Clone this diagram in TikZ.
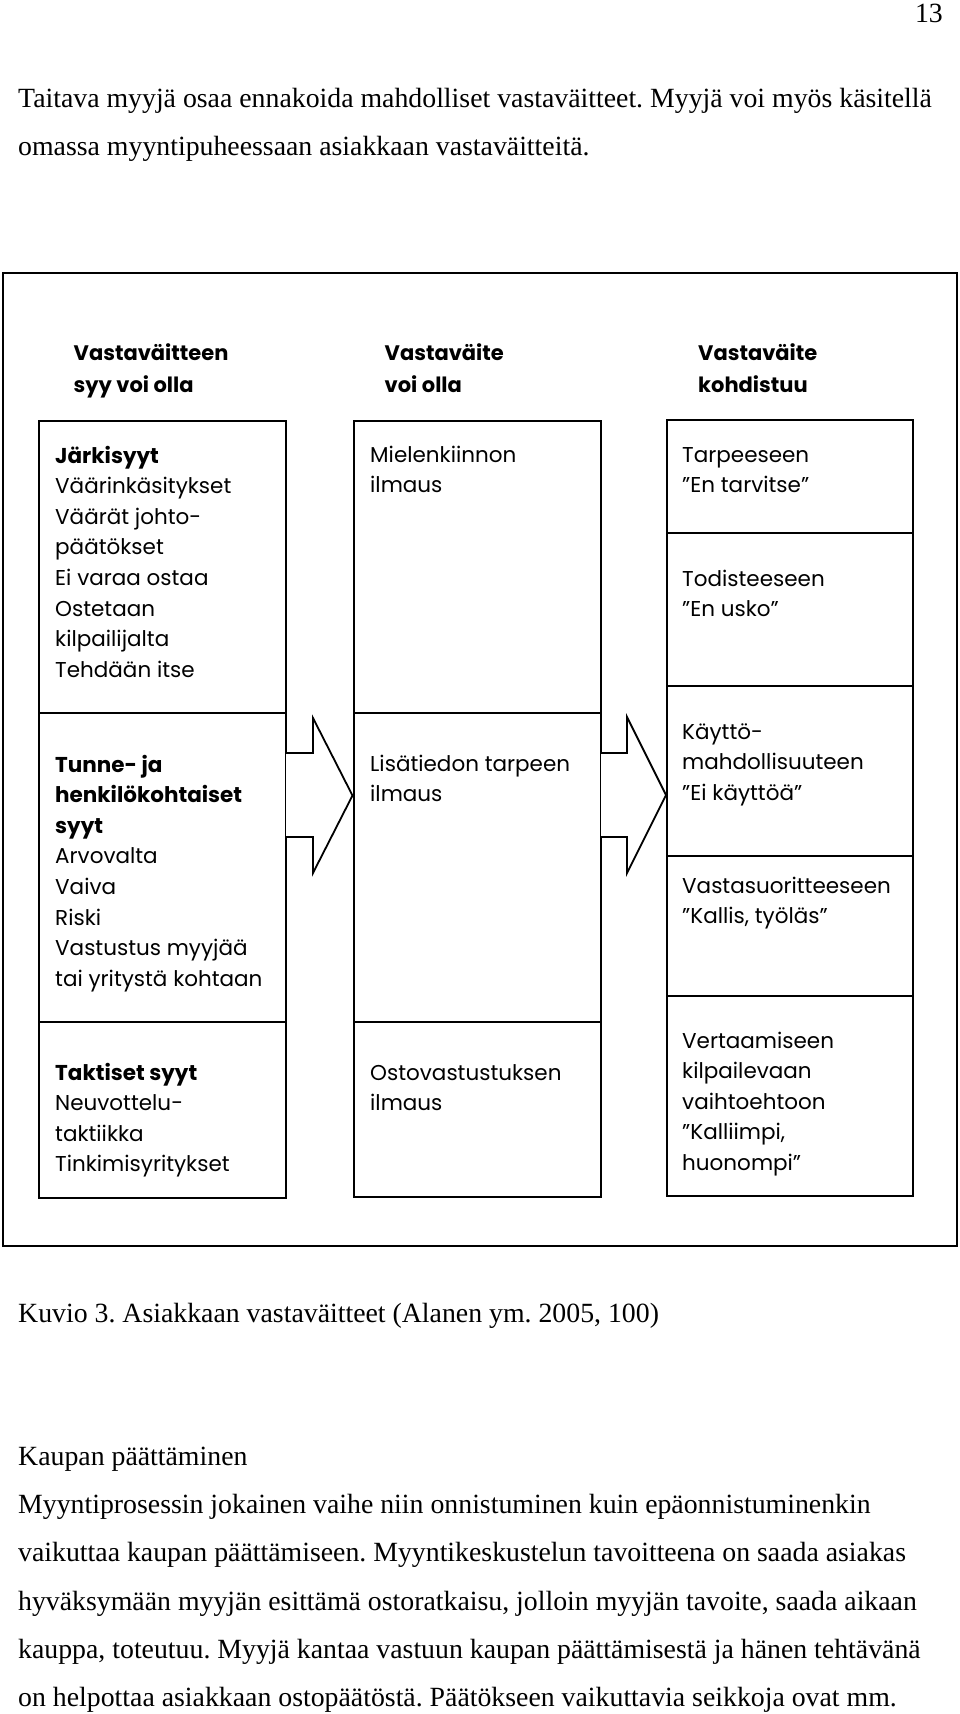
\documentclass[tikz,border=0pt]{standalone}
\usepackage{fontspec}
\setmainfont{Liberation Serif}
\newfontfamily\futura{Poppins}
\newcommand{\dfont}{\futura\fontsize{21.5}{30.6}\selectfont}
\newcommand{\hfont}{\futura\bfseries\fontsize{21}{32}\selectfont}
\newcommand{\tfont}{\frenchspacing\fontsize{27.8}{48.4}\selectfont}
\begin{document}
\begin{tikzpicture}[x=1pt,y=-1pt,
  box/.style={draw, line width=1.8pt, anchor=north west, inner sep=0pt, outer sep=0pt},
  frame/.style={draw, line width=1.6pt, anchor=north west, inner sep=0pt, outer sep=0pt},
  txt/.style={anchor=base west, inner sep=0pt, align=left, font=\dfont},
  head/.style={anchor=base west, inner sep=0pt, align=left, font=\hfont},
  body/.style={anchor=base west, inner sep=0pt, font=\tfont},
  blockarrow/.style={draw, line width=1.8pt, fill=white, line join=miter}]
\useasboundingbox (0,0) rectangle (960,1714);
% page text
\node[body, anchor=base east] (pg) at (943,22) {13};
\node[body] (p1) at (18,107) {Taitava myyjä osaa ennakoida mahdolliset vastaväitteet. Myyjä voi myös käsitellä};
\node[body] (p2) at (18,155) {omassa myyntipuheessaan asiakkaan vastaväitteitä.};
% frame
\node[frame, minimum width=954pt, minimum height=973pt] (fr) at (3,273) {};
% headers (anchor = baseline of last line)
\node[head] (h1) at (73.5,392) {Vastaväitteen\\syy voi olla};
\node[head] (h2) at (384.5,392) {Vastaväite\\voi olla};
\node[head] (h3) at (698,392) {Vastaväite\\kohdistuu};
% left column
\node[box, minimum width=247pt, minimum height=292pt] (L1) at (39,421) {};
\node[box, minimum width=247pt, minimum height=309pt] (L2) at (39,713) {};
\node[box, minimum width=247pt, minimum height=176pt] (L3) at (39,1022) {};
% middle column
\node[box, minimum width=247pt, minimum height=292pt] (M1) at (354,421) {};
\node[box, minimum width=247pt, minimum height=309pt] (M2) at (354,713) {};
\node[box, minimum width=247pt, minimum height=175pt] (M3) at (354,1022) {};
% right column
\node[box, minimum width=246pt, minimum height=113pt] (R1) at (667,420) {};
\node[box, minimum width=246pt, minimum height=153pt] (R2) at (667,533) {};
\node[box, minimum width=246pt, minimum height=170pt] (R3) at (667,686) {};
\node[box, minimum width=246pt, minimum height=140pt] (R4) at (667,856) {};
\node[box, minimum width=246pt, minimum height=200pt] (R5) at (667,996) {};
% box texts (anchor = baseline of last line)
\node[txt] (L1t) at (55,677.2) {\textbf{Järkisyyt}\\Väärinkäsitykset\\Väärät johto-\\päätökset\\Ei varaa ostaa\\Ostetaan\\kilpailijalta\\Tehdään itse};
\node[txt] (L2t) at (55,986.2) {\textbf{Tunne- ja}\\\textbf{henkilökohtaiset}\\\textbf{syyt}\\Arvovalta\\Vaiva\\Riski\\Vastustus myyjää\\tai yritystä kohtaan};
\node[txt] (L3t) at (55,1171.8) {\textbf{Taktiset syyt}\\Neuvottelu-\\taktiikka\\Tinkimisyritykset};
\node[txt] (M1t) at (370,492.6) {Mielenkiinnon\\ilmaus};
\node[txt] (M2t) at (370,801.6) {Lisätiedon tarpeen\\ilmaus};
\node[txt] (M3t) at (370,1110.6) {Ostovastustuksen\\ilmaus};
\node[txt] (R1t) at (682,492.6) {Tarpeeseen\\”En tarvitse”};
\node[txt] (R2t) at (682,616.6) {Todisteeseen\\”En usko”};
\node[txt] (R3t) at (682,800.2) {Käyttö-\\mahdollisuuteen\\”Ei käyttöä”};
\node[txt] (R4t) at (682,923.6) {Vastasuoritteeseen\\”Kallis, työläs”};
\node[txt] (R5t) at (682,1170.4) {Vertaamiseen\\kilpailevaan\\vaihtoehtoon\\”Kalliimpi,\\huonompi”};
% block arrows
\draw[blockarrow] ([yshift=-40pt]L2.north east) -- ([xshift=27pt,yshift=-40pt]L2.north east)
  -- ([xshift=27pt,yshift=-5pt]L2.north east) -- ([xshift=-1.5pt,yshift=-82.5pt]M2.north west)
  -- ([xshift=27pt,yshift=-160pt]L2.north east) -- ([xshift=27pt,yshift=-124pt]L2.north east)
  -- ([yshift=-124pt]L2.north east);
\draw[blockarrow] ([yshift=-40pt]M2.north east) -- ([xshift=26pt,yshift=-40pt]M2.north east)
  -- ([xshift=26pt,yshift=-4pt]M2.north east) -- ([xshift=-1pt,yshift=-109pt]R3.north west)
  -- ([xshift=26pt,yshift=-160pt]M2.north east) -- ([xshift=26pt,yshift=-124pt]M2.north east)
  -- ([yshift=-124pt]M2.north east);
% caption and following text
\node[body] (cap) at (18,1322) {Kuvio 3. Asiakkaan vastaväitteet (Alanen ym. 2005, 100)};
\node[body] (k1) at (18,1465) {Kaupan päättäminen};
\node[body] (k2) at (18,1513) {Myyntiprosessin jokainen vaihe niin onnistuminen kuin epäonnistuminenkin};
\node[body] (k3) at (18,1561.5) {vaikuttaa kaupan päättämiseen. Myyntikeskustelun tavoitteena on saada asiakas};
\node[body] (k4) at (18,1610) {hyväksymään myyjän esittämä ostoratkaisu, jolloin myyjän tavoite, saada aikaan};
\node[body] (k5) at (18,1658) {kauppa, toteutuu. Myyjä kantaa vastuun kaupan päättämisestä ja hänen tehtävänä};
\node[body] (k6) at (18,1706.5) {on helpottaa asiakkaan ostopäätöstä. Päätökseen vaikuttavia seikkoja ovat mm.};
\end{tikzpicture}
\end{document}
